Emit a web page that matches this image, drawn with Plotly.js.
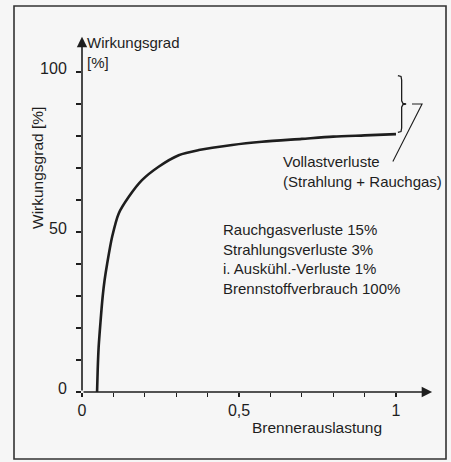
<!DOCTYPE html>
<html>
<head>
<meta charset="utf-8">
<script src="https://cdn.plot.ly/plotly-3.0.1.min.js"></script>
<style>
html,body{margin:0;padding:0;background:#f6f6f6;}
#chart{width:451px;height:462px;}
</style>
</head>
<body>
<div id="chart"></div>
<script>
// ---- data ----
const loadX = [0.048, 0.050, 0.053, 0.059, 0.066, 0.072, 0.080, 0.096, 0.117, 0.149, 0.191, 0.244, 0.308, 0.372, 0.478, 0.573, 0.70, 0.80, 0.90, 1.0];
const efficiency = [0, 7, 14, 22, 30, 35, 40, 48.5, 55.8, 61, 66.2, 70.4, 74, 75.6, 77.2, 78.2, 79.1, 79.8, 80.2, 80.6];

const xTickVals = [0, 0.1, 0.2, 0.3, 0.4, 0.5, 0.6, 0.7, 0.8, 0.9, 1];
const xTickText = ['0', '', '', '', '', '0,5', '', '', '', '', '1'];
const yTickVals = [0, 10, 20, 30, 40, 50, 60, 70, 80, 90, 100];
const yTickText = ['0', '', '', '', '', '50', '', '', '', '', '100'];

// brace marking the full-load losses
const braceX = [1.006, 1.016, 1.018, 1.018, 1.022, 1.032, 1.022, 1.018, 1.018, 1.016, 1.006];
const braceY = [98.9, 98.6, 97.5, 91, 90.2, 90, 89.8, 89, 82.5, 81.4, 81.1];
const pointerX = [1.051, 1.083, 0.99];
const pointerY = [90, 90, 72];

const infoLines = ['Rauchgasverluste 15%', 'Strahlungsverluste 3%', 'i. Auskühl.-Verluste 1%', 'Brennstoffverbrauch 100%'];
const calloutLines = ['Vollastverluste', '(Strahlung + Rauchgas)'];
const xTitle = 'Brennerauslastung';
const yTitle = 'Wirkungsgrad [%]';
const topTitle = ['Wirkungsgrad', '[%]'];

// ---- layout geometry ----
const W = 451, H = 462;
const mL = 82, mR = 5, mT = 6, mB = 70;
const pxPerX = 314, pxPerY = 3.2;
const plotW = W - mL - mR, plotH = H - mT - mB;
const xMax = plotW / pxPerX, yMax = plotH / pxPerY;
// pixel -> paper fraction (paper refs are drawn even outside the plot area)
const px2p = p => (p - mL) / plotW;
const py2p = p => (H - mB - p) / plotH;

const font = "'Liberation Sans', Arial, sans-serif";
const ink = '#1e1e1e';
const fs = 15;

const traces = [
  {x: loadX, y: efficiency, mode: 'lines', line: {color: ink, width: 2.6, shape: 'spline', smoothing: 0.8}, hoverinfo: 'skip'},
  {x: braceX, y: braceY, mode: 'lines', line: {color: ink, width: 1.3}, hoverinfo: 'skip'},
  {x: pointerX, y: pointerY, mode: 'lines', line: {color: ink, width: 1.1}, hoverinfo: 'skip'}
];

const ann = [];
// axis arrows
ann.push({x: 1.115, y: 0, ax: 0, ay: 0, axref: 'x', ayref: 'y', xref: 'x', yref: 'y', text: '', showarrow: true,
  arrowhead: 2, arrowsize: 1.3, arrowwidth: 1.6, arrowcolor: ink, standoff: 0, startstandoff: 0});
ann.push({x: 0, y: 111, ax: 0, ay: 0, axref: 'x', ayref: 'y', xref: 'x', yref: 'y', text: '', showarrow: true,
  arrowhead: 2, arrowsize: 1.3, arrowwidth: 1.6, arrowcolor: ink, standoff: 0, startstandoff: 0});

const txt = (text, xp, yp, xanchor, extra) => Object.assign({
  x: px2p(xp), y: py2p(yp), xref: 'paper', yref: 'paper', text: text, showarrow: false,
  xanchor: xanchor, yanchor: 'middle', align: 'left', borderpad: 0,
  font: {family: font, size: fs, color: ink}
}, extra || {});

ann.push(txt(topTitle.join('<br>'), 86, 53, 'left'));
ann.push(txt(yTitle, 37, 168, 'center', {textangle: -90, font: {family: font, size: fs + 0.5, color: ink}}));
ann.push(txt(xTitle, 317, 428, 'center', {font: {family: font, size: fs + 0.5, color: ink}}));
ann.push(txt(infoLines.join('<br>'), 222, 258.5, 'left'));
ann.push(txt(calloutLines.join('<br>'), 282, 171, 'left'));

const frame = {type: 'rect', xref: 'paper', yref: 'paper',
  x0: px2p(14), x1: px2p(446), y0: py2p(459), y1: 1,
  line: {color: '#333', width: 1.6}, fillcolor: 'rgba(0,0,0,0)'};

const layout = {
  width: W, height: H,
  margin: {l: mL, r: mR, t: mT, b: mB, pad: 0},
  paper_bgcolor: '#f6f6f6', plot_bgcolor: '#f6f6f6',
  showlegend: false,
  xaxis: {range: [0, xMax], showgrid: false, zeroline: false, showline: false,
    tickmode: 'array', tickvals: xTickVals, ticktext: xTickText,
    ticks: 'outside', ticklen: 4, tickwidth: 1.1, tickcolor: ink,
    tickfont: {family: font, size: fs + 1, color: ink}, fixedrange: true},
  yaxis: {range: [0, yMax], showgrid: false, zeroline: false, showline: false,
    tickmode: 'array', tickvals: yTickVals, ticktext: yTickText,
    ticks: 'outside', ticklen: 5, tickwidth: 1.1, tickcolor: ink,
    ticklabelstandoff: 6, ticklabelshift: -4,
    tickfont: {family: font, size: fs + 1, color: ink}, fixedrange: true},
  annotations: ann,
  shapes: [frame]
};

Plotly.newPlot('chart', traces, layout, {staticPlot: true, displayModeBar: false});
</script>
</body>
</html>
